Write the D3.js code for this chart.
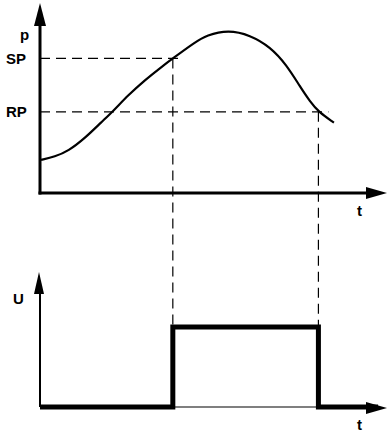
<!DOCTYPE html>
<html><head><meta charset="utf-8">
<script src="https://cdn.jsdelivr.net/npm/d3@7"></script>
<style>body{margin:0;background:#fff}svg{display:block}text{font-family:"Liberation Sans",Arial,sans-serif;font-weight:bold;font-size:15px;fill:#000}</style>
</head><body><svg id="c" width="387" height="432"></svg>
<script>
// data (time in units 0..10, pressure 0..100)
const curveT = [0.03, 0.43, 0.82, 1.30, 1.79, 2.10, 2.56, 3.04, 3.53, 3.85, 4.47, 4.83, 5.46, 6.09, 6.67, 7.15, 7.54, 7.83, 8.07, 8.52];
const curveP = [17.6, 19.3, 22.3, 29.1, 37.9, 43.2, 52.1, 60.1, 67.2, 71.6, 79.9, 84.0, 86.8, 84.0, 77.8, 68.1, 56.5, 48.6, 43.2, 37.4];
const levelNames = ["SP", "RP"];
const levelValues = [71.6, 43.2];
const switchT = [3.85, 8.07];         // on, off instants
const signalT = [0, 3.85, 3.85, 8.07, 8.07, 9.8];
const signalU = [0, 0, 1, 1, 0, 0];

const svg = d3.select("#c");
const x = d3.scaleLinear().domain([0, 10]).range([40, 385]);
const yP = d3.scaleLinear().domain([0, 100]).range([193, 5]);
const yU = d3.scaleLinear().domain([0, 1]).range([407, 327]);

function arrowUp(xp, tip, base, half) {
  svg.append("path").attr("d", `M${xp},${tip}L${xp-half},${base}L${xp+half},${base}Z`).attr("fill", "#000");
}
function arrowRight(yp, tip, base, half) {
  svg.append("path").attr("d", `M${tip},${yp}L${base},${yp-half}L${base},${yp+half}Z`).attr("fill", "#000");
}

// dashed guides
levelValues.forEach((v, i) => {
  svg.append("line").attr("x1", x(0)).attr("x2", x(switchT[i]) + 10)
    .attr("y1", yP(v)).attr("y2", yP(v))
    .attr("stroke", "#000").attr("stroke-width", 1.2).attr("stroke-dasharray", "10,6");
  svg.append("line").attr("x1", x(switchT[i])).attr("x2", x(switchT[i]))
    .attr("y1", yP(v)).attr("y2", yU(1))
    .attr("stroke", "#000").attr("stroke-width", 1.2).attr("stroke-dasharray", "10,6");
  svg.append("text").attr("x", 6).attr("y", yP(v) + 5.5).text(levelNames[i]);
});

// top axes
svg.append("line").attr("x1", x(0)).attr("x2", x(0)).attr("y1", yP(0) + 1.5).attr("y2", 20)
  .attr("stroke", "#000").attr("stroke-width", 3);
arrowUp(x(0), 3, 26, 6);
svg.append("line").attr("x1", x(0) - 1.5).attr("x2", 370).attr("y1", yP(0)).attr("y2", yP(0))
  .attr("stroke", "#000").attr("stroke-width", 3);
arrowRight(yP(0), 387, 366, 6);
svg.append("text").attr("x", 20).attr("y", 40).text("p");
svg.append("text").attr("x", 357).attr("y", 216).text("t");

// pressure curve
svg.append("path").datum(curveT.map((t, i) => [t, curveP[i]]))
  .attr("d", d3.line().x(d => x(d[0])).y(d => yP(d[1])).curve(d3.curveBasis))
  .attr("fill", "none").attr("stroke", "#000").attr("stroke-width", 2.2);

// bottom axes
svg.append("line").attr("x1", x(0)).attr("x2", x(0)).attr("y1", yU(0)).attr("y2", 285)
  .attr("stroke", "#000").attr("stroke-width", 2);
arrowUp(x(0) - 1, 272, 294, 5);
svg.append("line").attr("x1", x(0)).attr("x2", 370).attr("y1", yU(0)).attr("y2", yU(0))
  .attr("stroke", "#000").attr("stroke-width", 1.2);
arrowRight(yU(0) + 1, 387, 366, 6);
svg.append("text").attr("x", 13).attr("y", 304).text("U");
svg.append("text").attr("x", 357).attr("y", 430).text("t");

// switching signal
svg.append("path").datum(signalT.map((t, i) => [t, signalU[i]]))
  .attr("d", d3.line().x(d => x(d[0])).y(d => yU(d[1])))
  .attr("fill", "none").attr("stroke", "#000").attr("stroke-width", 5).attr("stroke-linejoin", "miter");
</script></body></html>
